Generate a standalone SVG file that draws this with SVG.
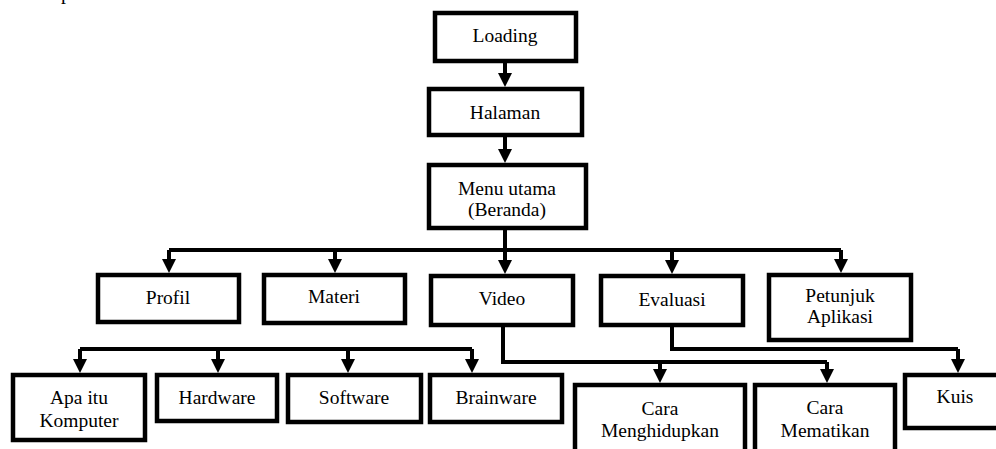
<svg xmlns="http://www.w3.org/2000/svg" width="996" height="449" viewBox="0 0 996 449">
<style>
.box{fill:#fff;stroke:#000;stroke-width:4.5}
.t{font-family:'Liberation Serif','DejaVu Serif','Times New Roman',serif;font-size:19.5px;fill:#000;text-anchor:middle}
.ln{fill:none;stroke:#000;stroke-width:4;stroke-linejoin:miter}
.ar{fill:none;stroke:#000;stroke-width:4;marker-end:url(#ah)}
</style>
<defs>
<marker id="ah" viewBox="0 0 14 14" markerUnits="userSpaceOnUse" markerWidth="14" markerHeight="14" refX="8" refY="7" orient="auto">
<path d="M0,0 L14,7 L0,14 z" fill="#000"/>
</marker>
</defs>
<rect width="996" height="449" fill="#fff"/>
<g font-family="'Liberation Serif', 'DejaVu Serif', serif">
<text class="t" x="61" y="-1" style="text-anchor:start;font-size:20px">p</text>
</g>

<g id="connectors">
<path class="ar" d="M505 63 V81"/>
<path class="ar" d="M505 137 V157"/>
<path class="ln" d="M505 230 V250"/>
<path class="ln" d="M169 250 H841"/>
<path class="ar" d="M169 250 V267"/>
<path class="ar" d="M335 250 V267"/>
<path class="ar" d="M505 250 V268"/>
<path class="ar" d="M672 250 V268"/>
<path class="ar" d="M841 250 V267"/>
<path class="ln" d="M80 349 H472"/>
<path class="ar" d="M80 349 V367"/>
<path class="ar" d="M218 349 V367"/>
<path class="ar" d="M348 349 V367"/>
<path class="ar" d="M472 349 V367"/>
<path class="ln" d="M503 327 V362 H827"/>
<path class="ar" d="M660 362 V377"/>
<path class="ar" d="M827 362 V377"/>
<path class="ln" d="M672 327 V349 H958"/>
<path class="ar" d="M958 349 V367"/>
</g>

<g id="loading"><rect class="box" x="435" y="13" width="141" height="48"/><text class="t" x="505" y="42">Loading</text></g>
<g id="halaman"><rect class="box" x="429" y="89" width="153" height="46"/><text class="t" x="505" y="119">Halaman</text></g>
<g id="menu-utama"><rect class="box" x="429" y="165" width="157" height="63"/><text class="t" x="507" y="195">Menu utama</text><text class="t" x="507" y="216">(Beranda)</text></g>

<g id="profil"><rect class="box" x="98" y="275" width="141" height="47"/><text class="t" x="168" y="304">Profil</text></g>
<g id="materi"><rect class="box" x="264" y="275" width="141" height="48"/><text class="t" x="334" y="303">Materi</text></g>
<g id="video"><rect class="box" x="431" y="276" width="142" height="49"/><text class="t" x="502" y="305">Video</text></g>
<g id="evaluasi"><rect class="box" x="601" y="276" width="142" height="49"/><text class="t" x="672" y="306">Evaluasi</text></g>
<g id="petunjuk"><rect class="box" x="769" y="275" width="142" height="65"/><text class="t" x="840" y="302">Petunjuk</text><text class="t" x="840" y="323">Aplikasi</text></g>

<g id="apa-itu"><rect class="box" x="13" y="375" width="132" height="65"/><text class="t" x="79" y="404">Apa itu</text><text class="t" x="79" y="427">Komputer</text></g>
<g id="hardware"><rect class="box" x="157" y="375" width="120" height="46"/><text class="t" x="217" y="404">Hardware</text></g>
<g id="software"><rect class="box" x="288" y="375" width="133" height="47"/><text class="t" x="354" y="404">Software</text></g>
<g id="brainware"><rect class="box" x="430" y="375" width="132" height="47"/><text class="t" x="496" y="404">Brainware</text></g>

<g id="cara-menghidupkan"><rect class="box" x="575" y="385" width="170" height="80"/><text class="t" x="660" y="415">Cara</text><text class="t" x="660" y="437">Menghidupkan</text></g>
<g id="cara-mematikan"><rect class="box" x="755" y="385" width="140" height="80"/><text class="t" x="825" y="414">Cara</text><text class="t" x="825" y="437">Mematikan</text></g>
<g id="kuis"><rect class="box" x="905" y="375" width="120" height="53"/><text class="t" x="955" y="403">Kuis</text></g>
</svg>
